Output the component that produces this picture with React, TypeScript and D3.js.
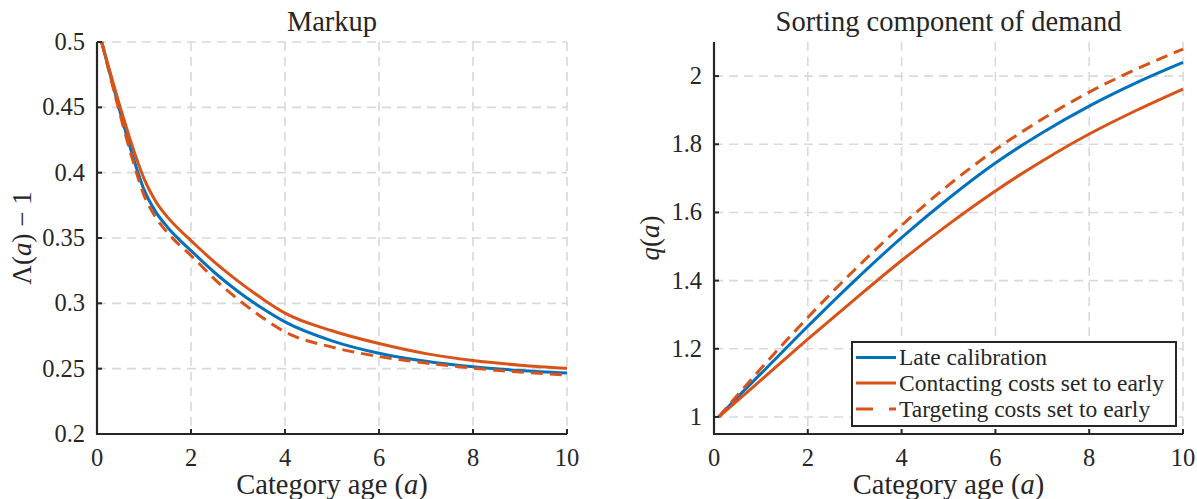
import React from 'react';
import * as d3 from 'd3';

// ---- data ----
const markupAges = [0.1, 0.25, 0.5, 0.75, 1, 1.25, 1.5, 1.75, 2, 2.5, 3, 3.5, 4, 5, 6, 7, 8, 9, 10];
const markupLate = [0.5, 0.479, 0.4453, 0.414, 0.387, 0.37, 0.3583, 0.3488, 0.3403, 0.3236, 0.3091, 0.2966, 0.2858, 0.2713, 0.2618, 0.2556, 0.2514, 0.2486, 0.2466];
const markupContacting = [0.5, 0.4805, 0.4493, 0.4205, 0.3955, 0.378, 0.366, 0.3565, 0.348, 0.3315, 0.317, 0.304, 0.2925, 0.279, 0.2692, 0.2615, 0.2562, 0.2527, 0.2503];
const markupTargeting = [0.5, 0.4783, 0.4433, 0.4108, 0.3828, 0.3658, 0.354, 0.3448, 0.3366, 0.3186, 0.3031, 0.2896, 0.2781, 0.2665, 0.2593, 0.2543, 0.2504, 0.2474, 0.2452];

const sortAges = [0.1, 0.5, 1, 2, 3, 4, 5, 6, 7, 8, 9, 10];
const sortLate = [1.0, 1.058, 1.127, 1.266, 1.4, 1.526, 1.641, 1.745, 1.834, 1.912, 1.98, 2.04];
const sortContacting = [1.0, 1.048, 1.108, 1.228, 1.345, 1.459, 1.565, 1.663, 1.751, 1.83, 1.899, 1.962];
const sortTargeting = [1.0, 1.064, 1.142, 1.292, 1.432, 1.562, 1.68, 1.784, 1.874, 1.953, 2.02, 2.079];

const xTicks = [0, 2, 4, 6, 8, 10];
const markupTicks = [0.2, 0.25, 0.3, 0.35, 0.4, 0.45, 0.5];
const markupTickLabels = ['0.2', '0.25', '0.3', '0.35', '0.4', '0.45', '0.5'];
const sortTicks = [1, 1.2, 1.4, 1.6, 1.8, 2];
const sortTickLabels = ['1', '1.2', '1.4', '1.6', '1.8', '2'];

const seriesNames = ['Late calibration', 'Contacting costs set to early', 'Targeting costs set to early'];

const BLUE = '#0072BD';
const ORANGE = '#D95319';
const AXIS = '#262626';
const GRID = '#d9d9d9';
const FONT = 'Liberation Serif';
const TICK_FS = 24.5;
const XLABEL_FS = 28.5;
const YLABEL_FS = 27;
const TITLE_FS = 28.5;
const LEGEND_FS = 23.5;

type PanelProps = {
  left: number;
  right: number;
  top: number;
  bottom: number;
  yDomain: [number, number];
  yTicks: number[];
  yTickLabels: string[];
  ages: number[];
  series: number[][];
  title: string;
  yLabel: React.ReactNode;
  yLabelX: number;
};

function Panel(p: PanelProps) {
  const x = d3.scaleLinear().domain([0, 10]).range([p.left, p.right]);
  const y = d3.scaleLinear().domain(p.yDomain).range([p.bottom, p.top]);
  const styles = [
    { color: BLUE, dash: undefined },
    { color: ORANGE, dash: undefined },
    { color: ORANGE, dash: '12,7' },
  ];
  const line = (vals: number[]) =>
    d3
      .line<number>()
      .x((_, i) => x(p.ages[i]))
      .y((v) => y(v))
      .curve(d3.curveMonotoneX)(vals) || '';
  const yMid = (p.top + p.bottom) / 2;
  return (
    <g>
      {xTicks.filter((t) => t > 0).map((t) => (
        <line key={'gx' + t} x1={x(t)} x2={x(t)} y1={p.top} y2={p.bottom} stroke={GRID} strokeWidth={1.6} strokeDasharray="9,6" />
      ))}
      {p.yTicks.filter((t) => y(t) < p.bottom - 1).map((t) => (
        <line key={'gy' + t} x1={p.left} x2={p.right} y1={y(t)} y2={y(t)} stroke={GRID} strokeWidth={1.6} strokeDasharray="9,6" />
      ))}
      {p.series.map((vals, i) => (
        <path key={'s' + i} d={line(vals)} fill="none" stroke={styles[i].color} strokeWidth={3} strokeDasharray={styles[i].dash} />
      ))}
      <line x1={p.left} x2={p.left} y1={p.top} y2={p.bottom + 1} stroke={AXIS} strokeWidth={2.2} />
      <line x1={p.left - 1} x2={p.right} y1={p.bottom} y2={p.bottom} stroke={AXIS} strokeWidth={2.2} />
      {xTicks.map((t) => (
        <g key={'xt' + t}>
          <line x1={x(t)} x2={x(t)} y1={p.bottom} y2={p.bottom - 5} stroke={AXIS} strokeWidth={2} />
          <text x={x(t)} y={p.bottom + 32} textAnchor="middle" fontFamily={FONT} fontSize={TICK_FS} fill={AXIS}>{String(t)}</text>
        </g>
      ))}
      {p.yTicks.map((t, i) => (
        <g key={'yt' + t}>
          <line x1={p.left} x2={p.left + 5} y1={y(t)} y2={y(t)} stroke={AXIS} strokeWidth={2} />
          <text x={p.left - 12} y={y(t) + 8} textAnchor="end" fontFamily={FONT} fontSize={TICK_FS} fill={AXIS}>{p.yTickLabels[i]}</text>
        </g>
      ))}
      <text x={(p.left + p.right) / 2} y={31} textAnchor="middle" fontFamily={FONT} fontSize={TITLE_FS} fill={AXIS}>{p.title}</text>
      <text x={(p.left + p.right) / 2} y={494} textAnchor="middle" fontFamily={FONT} fontSize={XLABEL_FS} fill={AXIS}>
        Category age (<tspan fontStyle="italic">a</tspan>)
      </text>
      <text transform={`translate(${p.yLabelX + 9},${yMid}) rotate(-90)`} textAnchor="middle" fontFamily={FONT} fontSize={YLABEL_FS} fill={AXIS}>
        {p.yLabel}
      </text>
    </g>
  );
}

function Legend({ x0, y0, w, h }: { x0: number; y0: number; w: number; h: number }) {
  const rowY = [357.5, 383, 409];
  const styles = [
    { color: BLUE, dash: undefined },
    { color: ORANGE, dash: undefined },
    { color: ORANGE, dash: '17,16' },
  ];
  return (
    <g>
      <rect x={x0} y={y0} width={w} height={h} fill="white" stroke={AXIS} strokeWidth={2} />
      {seriesNames.map((n, i) => (
        <g key={n}>
          <line x1={x0 + 4} x2={x0 + 44} y1={rowY[i]} y2={rowY[i]} stroke={styles[i].color} strokeWidth={3} strokeDasharray={styles[i].dash} />
          <text x={x0 + 47} y={rowY[i] + 7.5} fontFamily={FONT} fontSize={LEGEND_FS} fill={AXIS}>{n}</text>
        </g>
      ))}
    </g>
  );
}

export default function App() {
  return (
    <svg width={1197} height={499} style={{ position: 'absolute', left: 0, top: 0, background: 'white' }}>
      <rect x={0} y={0} width={1197} height={499} fill="white" />
      <Panel
        left={97}
        right={567}
        top={42}
        bottom={434}
        yDomain={[0.2, 0.5]}
        yTicks={markupTicks}
        yTickLabels={markupTickLabels}
        ages={markupAges}
        series={[markupLate, markupContacting, markupTargeting]}
        title="Markup"
        yLabel={<>Λ(<tspan fontStyle="italic">a</tspan>) − 1</>}
        yLabelX={22}
      />
      <Panel
        left={714}
        right={1183}
        top={42}
        bottom={434}
        yDomain={[0.95, 2.1]}
        yTicks={sortTicks}
        yTickLabels={sortTickLabels}
        ages={sortAges}
        series={[sortLate, sortContacting, sortTargeting]}
        title="Sorting component of demand"
        yLabel={<><tspan fontStyle="italic">q</tspan>(<tspan fontStyle="italic">a</tspan>)</>}
        yLabelX={650}
      />
      <Legend x0={852} y0={342} w={324} h={84} />
    </svg>
  );
}
